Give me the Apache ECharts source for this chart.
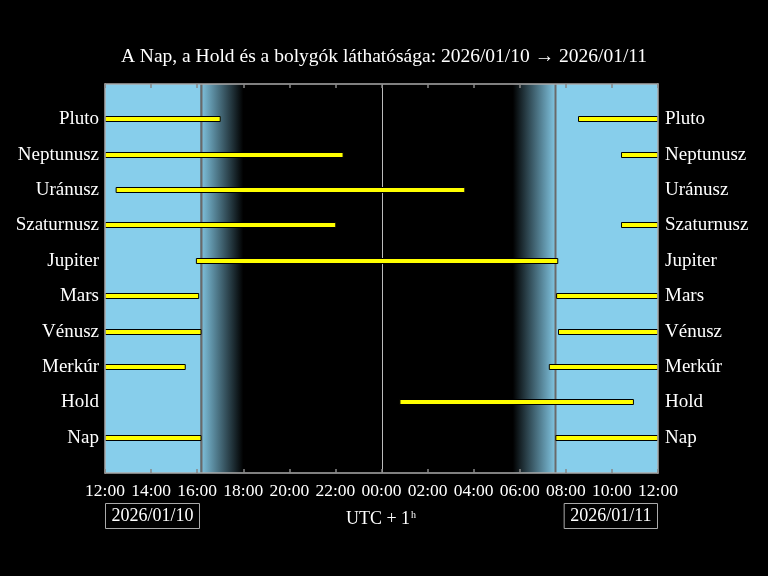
<!DOCTYPE html>
<html>
<head>
<meta charset="utf-8">
<script src="https://cdn.jsdelivr.net/npm/echarts@6/dist/echarts.min.js"></script>
<style>html,body{margin:0;padding:0;background:#000;}#c{width:768px;height:576px;}</style>
</head>
<body>
<div id="c"></div>
<script>
// ---- data ----
const bodies = ['Nap', 'Hold', 'Merkúr', 'Vénusz', 'Mars', 'Jupiter', 'Szaturnusz', 'Uránusz', 'Neptunusz', 'Pluto'];
// visibility intervals (local time, UTC+1); times before 12:00 belong to the next day
const visNap        = [['12:00', '16:10'], ['07:34', '12:00']];
const visHold       = [['00:48', '10:56']];
const visMerkur     = [['12:00', '15:29'], ['07:17', '12:00']];
const visVenusz     = [['12:00', '16:10'], ['07:41', '12:00']];
const visMars       = [['12:00', '16:04'], ['07:36', '12:00']];
const visJupiter    = [['15:58', '07:39']];
const visSzaturnusz = [['12:00', '22:01'], ['10:25', '12:00']];
const visUranusz    = [['12:29', '03:37']];
const visNeptunusz  = [['12:00', '22:20'], ['10:25', '12:00']];
const visPluto      = [['12:00', '17:00'], ['08:33', '12:00']];
const sunEvents = { sunset: '16:09', duskEnd: '18:00', dawnStart: '05:42', sunrise: '07:32' };
const tickHours = ['12:00', '14:00', '16:00', '18:00', '20:00', '22:00', '00:00', '02:00', '04:00', '06:00', '08:00', '10:00', '12:00'];
const dates = ['2026/01/10', '2026/01/11'];
const titleText = 'A Nap, a Hold és a bolygók láthatósága: 2026/01/10 → 2026/01/11';

// ---- helpers ----
function toH(s) { const p = s.split(':'); let h = +p[0] + (+p[1]) / 60 - 12; if (h < 0) h += 24; return h; }
function iv(pair) { const a = toH(pair[0]); let b = toH(pair[1]); if (b <= a) b += 24; return [a, b]; }
const allVis = [visNap, visHold, visMerkur, visVenusz, visMars, visJupiter, visSzaturnusz, visUranusz, visNeptunusz, visPluto];
const barData = [];
allVis.forEach((list, i) => list.forEach(p => { const r = iv(p); barData.push([i, r[0], Math.min(r[1], 24)]); }));

const sunset = toH(sunEvents.sunset), duskEnd = toH(sunEvents.duskEnd), dawnStart = toH(sunEvents.dawnStart), sunrise = toH(sunEvents.sunrise);
const SKY = '#87CEEB';
const bgData = [
  [0, sunset, 0], [sunset, duskEnd, 1], [dawnStart, sunrise, 2], [sunrise, 24, 0]
];
const lineData = [[sunset, 0], [sunrise, 0], [12, 1]];

const FONT = 'Liberation Serif';
const chart = echarts.init(document.getElementById('c'), null, { renderer: 'canvas' });

const xCommon = {
  type: 'value', min: 0, max: 24, interval: 2, z: 10,
  axisLine: { show: true, onZero: false, lineStyle: { color: '#aaaaaa', width: 1.5 } },
  axisTick: { show: true, inside: true, length: 4, lineStyle: { color: '#888888', width: 1.5 } },
  splitLine: { show: false }
};
const yCommon = {
  type: 'value', min: -1, max: 10, interval: 1, z: 10,
  axisLine: { show: true, onZero: false, lineStyle: { color: '#aaaaaa', width: 1.5 } },
  axisTick: { show: false },
  splitLine: { show: false }
};

chart.setOption({
  backgroundColor: '#000',
  animation: false,
  title: {
    text: titleText, left: 'center', top: 42,
    textStyle: { color: '#fff', fontFamily: FONT, fontSize: 19.5, fontWeight: 'normal' }
  },
  grid: { left: 105, right: 110, top: 84, bottom: 103, containLabel: false },
  xAxis: [
    Object.assign({}, xCommon, {
      position: 'bottom',
      axisLabel: { show: true, color: '#fff', fontFamily: FONT, fontSize: 17.5, margin: 9,
        formatter: v => tickHours[Math.round(v / 2)] }
    }),
    Object.assign({}, xCommon, { position: 'top', axisLabel: { show: false } })
  ],
  yAxis: [
    Object.assign({}, yCommon, {
      position: 'left',
      axisLabel: { color: '#fff', fontFamily: FONT, fontSize: 19, margin: 6,
        formatter: v => (v >= 0 && v < bodies.length) ? bodies[v] : '' }
    }),
    Object.assign({}, yCommon, {
      position: 'right',
      axisLabel: { color: '#fff', fontFamily: FONT, fontSize: 19, margin: 7,
        formatter: v => (v >= 0 && v < bodies.length) ? bodies[v] : '' }
    })
  ],
  series: [
    {
      type: 'custom', z: 1, xAxisIndex: 0, yAxisIndex: 0, silent: true,
      data: bgData,
      renderItem: function (params, api) {
        const a = api.coord([api.value(0), 10]);
        const b = api.coord([api.value(1), -1]);
        const kind = api.value(2);
        let fill;
        if (kind === 0) fill = SKY;
        else if (kind === 1) fill = { type: 'linear', x: 0, y: 0, x2: 1, y2: 0, colorStops: [{ offset: 0, color: '#80c4e0' }, { offset: 1, color: '#000' }] };
        else fill = { type: 'linear', x: 0, y: 0, x2: 1, y2: 0, colorStops: [{ offset: 0, color: '#000' }, { offset: 1, color: '#80c4e0' }] };
        return { type: 'rect', shape: { x: a[0], y: a[1], width: b[0] - a[0], height: b[1] - a[1] }, style: { fill: fill } };
      }
    },
    {
      type: 'custom', z: 2, xAxisIndex: 0, yAxisIndex: 0, silent: true,
      data: lineData,
      renderItem: function (params, api) {
        const a = api.coord([api.value(0), 10]);
        const b = api.coord([api.value(0), -1]);
        const mid = api.value(1) === 1;
        return { type: 'line', shape: { x1: Math.round(a[0]) + 0.5, y1: a[1], x2: Math.round(b[0]) + 0.5, y2: b[1] },
          style: { stroke: mid ? '#bbbbbb' : '#6a6a6a', lineWidth: mid ? 1 : 2 } };
      }
    },
    {
      type: 'custom', z: 3, xAxisIndex: 0, yAxisIndex: 0, silent: true,
      data: barData,
      renderItem: function (params, api) {
        const a = api.coord([api.value(1), api.value(0)]);
        const b = api.coord([api.value(2), api.value(0)]);
        return { type: 'rect', shape: { x: a[0], y: Math.round(a[1]) - 2.5, width: b[0] - a[0], height: 5 },
          style: { fill: '#ffff00', stroke: '#000', lineWidth: 1 } };
      }
    }
  ],
  graphic: [
    { type: 'text', left: 105, top: 503, z: 20,
      style: { text: dates[0], fill: '#fff', font: '18px "Liberation Serif"', padding: [4, 6, 3, 6], borderColor: '#aaaaaa', borderWidth: 1 } },
    { type: 'text', right: 110, top: 503, z: 20,
      style: { text: dates[1], fill: '#fff', font: '18px "Liberation Serif"', padding: [4, 6, 3, 6], borderColor: '#aaaaaa', borderWidth: 1 } },
    { type: 'text', x: 381, y: 519, z: 20,
      style: { text: '{a|UTC + 1}{s|h}', align: 'center', verticalAlign: 'middle',
        rich: { a: { fill: '#fff', fontFamily: FONT, fontSize: 18 }, s: { fill: '#fff', fontFamily: FONT, fontSize: 10, verticalAlign: 'top', padding: [0, 0, 8, 1] } } } }
  ]
});
</script>
</body>
</html>
